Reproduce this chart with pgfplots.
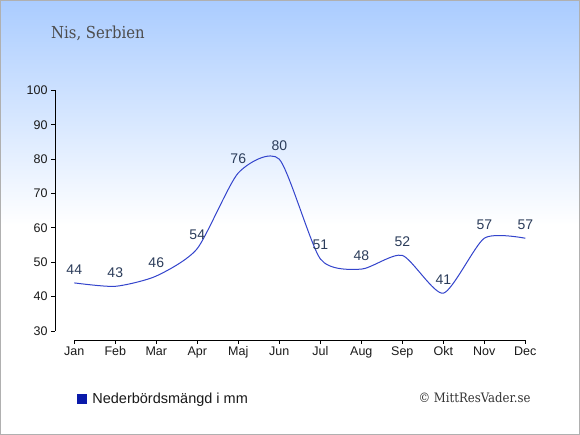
\documentclass[border=0pt]{standalone}
\usepackage{fontspec}
\setmainfont{Liberation Sans}
\newfontfamily\seriffont[FakeStretch=0.9]{DejaVu Serif}
\usepackage{pgfplots}
\pgfplotsset{compat=1.18}
\definecolor{bgtop}{HTML}{AACCFF}
\definecolor{linec}{HTML}{3344CC}
\definecolor{labelc}{HTML}{2B3C5A}
\definecolor{tickc}{HTML}{1A1A1A}
\definecolor{legsq}{HTML}{0A1AAA}
\definecolor{titlec}{HTML}{4D4D4D}
\definecolor{borderc}{HTML}{B0B0B0}
\begin{document}
\begin{tikzpicture}[x=1pt,y=1pt]
\useasboundingbox (0,0) rectangle (580,435);
\fill[white] (0,0) rectangle (580,435);
\shade[top color=bgtop, bottom color=white] (0,210) rectangle (580,435);
\draw[borderc, line width=1pt] (0.5,0.5) rectangle (579.5,434.5);
\node[anchor=base west, inner sep=0pt, font=\seriffont\fontsize{16.5}{19}\selectfont, text=titlec] at (51,396.7) {Nis, Serbien};
\node[anchor=base west, inner sep=0pt, font=\seriffont\fontsize{13}{16}\selectfont, text=black!80] at (418.3,32.3) {© MittResVader.se};
\begin{axis}[
  at={(55pt,95pt)}, anchor=south west,
  scale only axis, width=470.3pt, height=249.5pt,
  xmin=-0.47, xmax=11, ymin=27.38, ymax=100,
  clip=false,
  axis x line=bottom, axis y line=left,
  axis line style={-, black, line width=0.9pt},
  x axis line style={-, shorten <=19.3pt},
  y axis line style={-, shorten <=9pt},
  tick align=outside,
  major tick length=4pt,
  tick style={black, line width=0.9pt},
  xtick={0,...,11},
  xticklabels={Jan,Feb,Mar,Apr,Maj,Jun,Jul,Aug,Sep,Okt,Nov,Dec},
  ytick={30,40,...,100},
  minor tick num=0,
  /pgf/number format/assume math mode=true,
  ticklabel style={font=\fontsize{12.5}{15}\selectfont, text=tickc},
  xticklabel style={yshift=1pt},
  legend style={at={(0.0461,-0.2365)}, anchor=west, draw=none, fill=none,
    inner sep=0pt, font=\fontsize{14.5}{17}\selectfont, text=black!90},
  legend cell align=left,
]
\addplot[linec, line width=1pt, smooth, tension=0.4, forget plot,
  nodes near coords,
  every node near coord/.append style={font=\fontsize{14}{17}\selectfont, text=labelc, yshift=5pt}]
  coordinates {(0,44) (1,43) (2,46) (3,54) (4,76) (5,80) (6,51) (7,48) (8,52) (9,41) (10,57) (11,57)};
\addlegendimage{legend image code/.code={\fill[legsq, draw=none] (0pt,-5pt) rectangle (10pt,5pt); \path[draw=none, fill=none] (0pt,-0.1pt) rectangle (13.5pt,0.1pt);}}
\addlegendentry{Nederbördsmängd i mm}
\end{axis}
\end{tikzpicture}
\end{document}
